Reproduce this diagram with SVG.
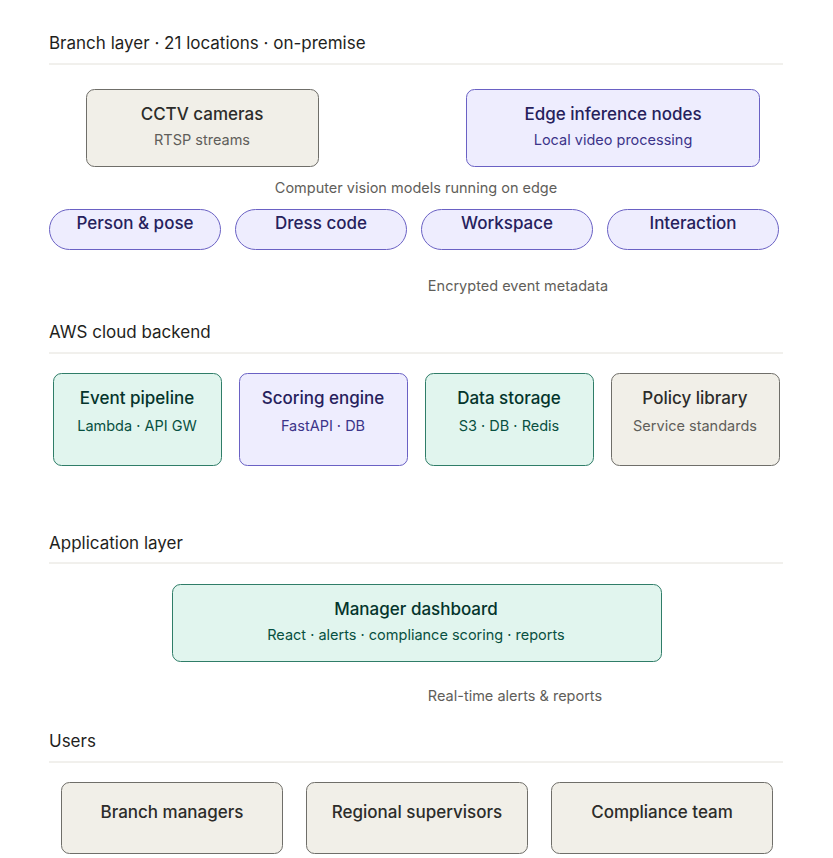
<svg xmlns="http://www.w3.org/2000/svg" width="833" height="858" viewBox="0 0 833 858">
<style>
text{font-family:Inter,"Noto Sans","Liberation Sans",sans-serif}
.hdr{font-size:17px;fill:#1f1f1d}
.sep{stroke:#e3e1da;stroke-width:1}
.lbl{font-size:14.5px;fill:#5f5e5a;text-anchor:middle}
.t{font-size:17px;text-anchor:middle;font-weight:500}
.s{font-size:14.5px;text-anchor:middle}
.gray rect{fill:#f1efe8;stroke:#6f6e69;stroke-width:1}
.gray .t{fill:#2c2c2a}
.gray .s{fill:#5f5e5a}
.purple rect{fill:#eeedfe;stroke:#6a61c4;stroke-width:1}
.purple .t{fill:#26215c}
.purple .s{fill:#3c3489}
.green rect{fill:#e1f5ee;stroke:#2f7d68;stroke-width:1}
.green .t{fill:#04342c}
.green .s{fill:#085041}
</style>
<rect width="833" height="858" fill="#ffffff"/>
<g id="sections">
<text class="hdr" x="49" y="49">Branch layer · 21 locations · on-premise</text>
<line class="sep" x1="49" y1="64" x2="783" y2="64"/>
<text class="hdr" x="49" y="338">AWS cloud backend</text>
<line class="sep" x1="49" y1="353" x2="783" y2="353"/>
<text class="hdr" x="49" y="549">Application layer</text>
<line class="sep" x1="49" y1="563" x2="783" y2="563"/>
<text class="hdr" x="49" y="747">Users</text>
<line class="sep" x1="49" y1="762" x2="783" y2="762"/>
</g>
<g id="connectors">
<text class="lbl" x="416" y="193">Computer vision models running on edge</text>
<text class="lbl" x="518" y="291">Encrypted event metadata</text>
<text class="lbl" x="515" y="701">Real-time alerts &amp; reports</text>
</g>
<g id="cctv" class="gray">
<rect x="86.5" y="89.5" width="232" height="77" rx="8"/>
<text class="t" x="202" y="120">CCTV cameras</text>
<text class="s" x="202" y="145">RTSP streams</text>
</g>
<g id="edge" class="purple">
<rect x="466.5" y="89.5" width="293" height="77" rx="8"/>
<text class="t" x="613" y="120">Edge inference nodes</text>
<text class="s" x="613" y="145">Local video processing</text>
</g>
<g id="person" class="purple">
<rect x="49.5" y="209.5" width="171" height="40" rx="20"/>
<text class="t" x="135" y="229">Person &amp; pose</text>
</g>
<g id="dress" class="purple">
<rect x="235.5" y="209.5" width="171" height="40" rx="20"/>
<text class="t" x="321" y="229">Dress code</text>
</g>
<g id="workspace" class="purple">
<rect x="421.5" y="209.5" width="171" height="40" rx="20"/>
<text class="t" x="507" y="229">Workspace</text>
</g>
<g id="interaction" class="purple">
<rect x="607.5" y="209.5" width="171" height="40" rx="20"/>
<text class="t" x="693" y="229">Interaction</text>
</g>
<g id="pipeline" class="green">
<rect x="53.5" y="373.5" width="168" height="92" rx="8"/>
<text class="t" x="137" y="404">Event pipeline</text>
<text class="s" x="137" y="431">Lambda · API GW</text>
</g>
<g id="scoring" class="purple">
<rect x="239.5" y="373.5" width="168" height="92" rx="8"/>
<text class="t" x="323" y="404">Scoring engine</text>
<text class="s" x="323" y="431">FastAPI · DB</text>
</g>
<g id="storage" class="green">
<rect x="425.5" y="373.5" width="168" height="92" rx="8"/>
<text class="t" x="509" y="404">Data storage</text>
<text class="s" x="509" y="431">S3 · DB · Redis</text>
</g>
<g id="policy" class="gray">
<rect x="611.5" y="373.5" width="168" height="92" rx="8"/>
<text class="t" x="695" y="404">Policy library</text>
<text class="s" x="695" y="431">Service standards</text>
</g>
<g id="dashboard" class="green">
<rect x="172.5" y="584.5" width="489" height="77" rx="8"/>
<text class="t" x="416" y="615">Manager dashboard</text>
<text class="s" x="416" y="640">React · alerts · compliance scoring · reports</text>
</g>
<g id="managers" class="gray">
<rect x="61.5" y="782.5" width="221" height="71" rx="8"/>
<text class="t" x="172" y="818">Branch managers</text>
</g>
<g id="supervisors" class="gray">
<rect x="306.5" y="782.5" width="221" height="71" rx="8"/>
<text class="t" x="417" y="818">Regional supervisors</text>
</g>
<g id="compliance" class="gray">
<rect x="551.5" y="782.5" width="221" height="71" rx="8"/>
<text class="t" x="662" y="818">Compliance team</text>
</g>
</svg>
